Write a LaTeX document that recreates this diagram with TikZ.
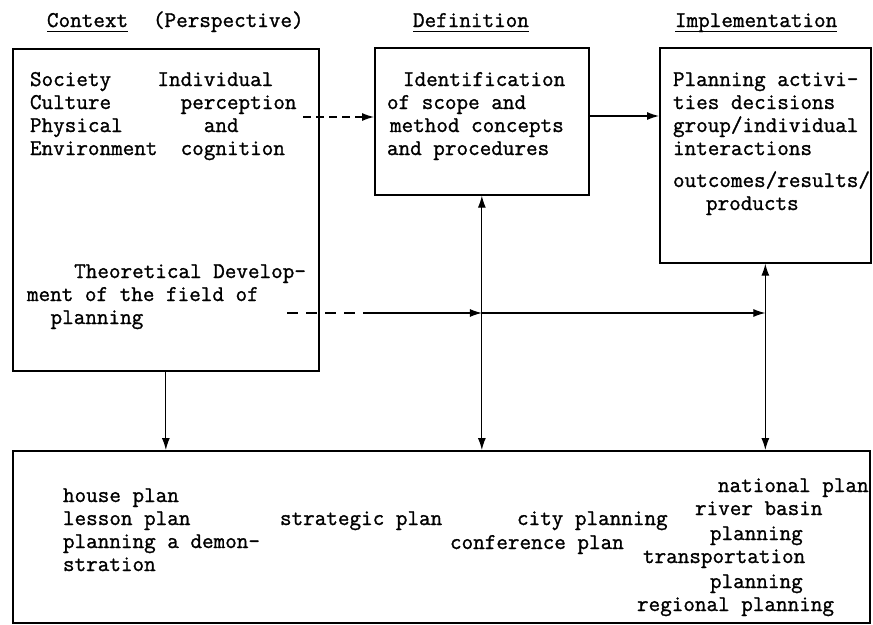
\documentclass[tikz,border=0pt]{standalone}
\usepackage{fontspec}
\usetikzlibrary{arrows.meta}
\newfontfamily\twfont{Latin Modern Mono}[FakeBold=1.2]
\newcommand{\tw}{\fontsize{22.5}{23}\selectfont\twfont}
\tikzset{
  boxnode/.style={draw, line width=1.7pt, inner sep=0pt, anchor=north west},
  txt/.style={font=\tw, inner sep=0pt, outer sep=0pt, align=left, anchor=north west},
  ln/.style={font=\tw, inner sep=0pt, outer sep=0pt, anchor=base west},
  conn/.style={line width=1.1pt},
  tip/.style={-{Latex[length=12pt,width=8pt]}},
  tips/.style={{Latex[length=12pt,width=8pt]}-{Latex[length=12pt,width=8pt]}},
  uline/.style={line width=0.9pt},
  dashA/.style={dash pattern=on 8pt off 5pt},
  dashB/.style={dash pattern=on 11pt off 8pt}
}
\begin{document}
\begin{tikzpicture}[x=1pt,y=-1pt]
\useasboundingbox (0,0) rectangle (873,624);
% titles
\node[ln] (ctxT) at (47,27) {Context};
\node[ln] (persT) at (153,27) {(Perspective)};
\node[ln] (defT) at (413,27) {Definition};
\node[ln] (impT) at (675,27) {Implementation};
\draw[uline] ([yshift=-4pt]ctxT.base west) -- ([yshift=-4pt]ctxT.base east);
\draw[uline] ([yshift=-4pt]defT.base west) -- ([yshift=-4pt]defT.base east);
\draw[uline] ([yshift=-4pt]impT.base west) -- ([yshift=-4pt]impT.base east);
% boxes
\node[boxnode, minimum width=306pt, minimum height=322pt] (box1) at (12,48) {};
\node[boxnode, minimum width=214pt, minimum height=147pt] (box2) at (374,47) {};
\node[boxnode, minimum width=211pt, minimum height=215pt] (box3) at (659,47) {};
\node[boxnode, minimum width=857pt, minimum height=172pt] (plans) at (12,450) {};
% box texts
\node[txt] (t1) at (30,69.9) {\strut Society~~~~Individual\\Culture~~~~~~perception\\Physical~~~~~~~and\\Environment~~cognition};
\node[txt] (t1b) at (27,261.9) {\strut\hspace*{47.2pt}Theoretical Develop-\\ment of the field of\\\hspace*{23.6pt}planning};
\node[txt] (t2) at (387,69.9) {\strut\hspace*{16pt}Identification\\of scope and\\\hspace*{3pt}method concepts\\and procedures};
\node[txt] (t3) at (673,69.9) {\strut Planning activi-\\ties decisions\\group/individual\\interactions\\[9pt]outcomes/results/\\\hspace*{33pt}products};
\node[txt] (t4) at (63,485.9) {\strut house plan\\lesson plan\\planning a demon-\\stration};
\node[ln] (p1) at (280,525) {strategic plan};
\node[ln] (p2) at (517,525) {city planning};
\node[ln] (p3) at (450,549) {conference plan};
\node[ln] (p4) at (718,492) {national plan};
\node[ln] (p5) at (695,515) {river basin};
\node[ln] (p6) at (710,540) {planning};
\node[ln] (p7) at (643,563) {transportation};
\node[ln] (p8) at (710,588) {planning};
\node[ln] (p9) at (637,611) {regional planning};
% connectors
\coordinate (d1) at (303,117);
\draw[conn, dashA, tip] (d1) -- (d1 -| box2.west);
\coordinate (s2) at (600,116);
\draw[conn, tip] (box2.east |- s2) -- (box3.west |- s2);
\draw[conn, tips] (box2.south) -- (box2.south |- plans.north);
\draw[conn, tips] (box3.south) -- (box3.south |- plans.north);
\draw[conn, tip] (box1.south) -- (box1.south |- plans.north);
\coordinate (h0) at (287,313);
\coordinate (h1) at (370,313);
\draw[conn, dashB] (h0) -- (h1);
\draw[conn, tip] (h1) -- (h1 -| box2.south);
\draw[conn, tip] (h1 -| box2.south) -- (h1 -| box3.south);
\end{tikzpicture}
\end{document}
